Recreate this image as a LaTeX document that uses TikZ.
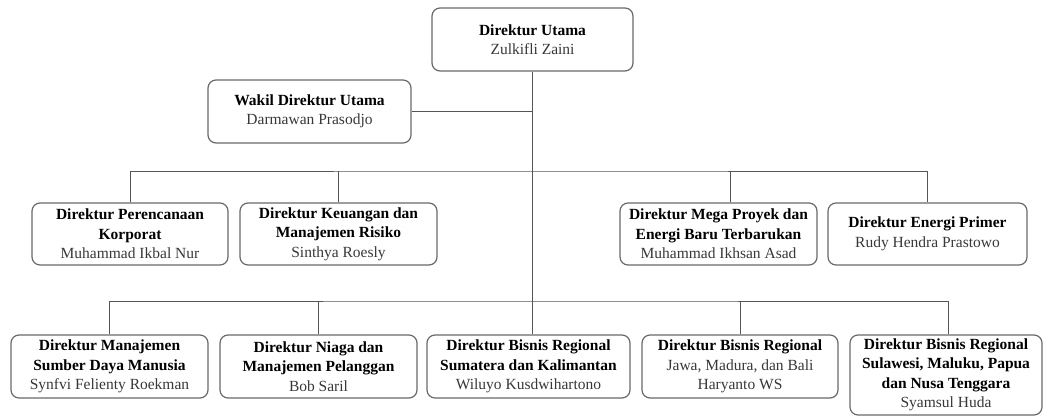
\documentclass[tikz,border=0pt]{standalone}
\usepackage{fontspec}
\setmainfont{Liberation Serif}
\definecolor{boxline}{RGB}{105,105,105}
\definecolor{connline}{RGB}{85,85,85}
\definecolor{nametxt}{RGB}{55,55,55}
\newcommand\pname[1]{{\color{nametxt}#1}}
\begin{document}
\begin{tikzpicture}[x=1pt,y=-1pt,
  orgbox/.style={draw=boxline, line width=1.2pt, rounded corners=8pt, align=center,
    inner sep=0pt, font=\fontsize{15.5}{19.5}\selectfont, text=black},
  conn/.style={draw=connline, line width=1pt}]
\useasboundingbox (0,0) rectangle (1051,417);

% top
\node[orgbox, minimum width=201pt, minimum height=63pt] (du) at (532.5,39.5)
  {\textbf{Direktur Utama}\\\pname{Zulkifli Zaini}};
\node[orgbox, minimum width=203pt, minimum height=63pt] (wk) at (309.5,111.5)
  {\textbf{Wakil Direktur Utama}\\\pname{Darmawan Prasodjo}};

% row 2
\node[orgbox, minimum width=196pt, minimum height=62pt] (r2a) at (130,234)
  {\textbf{Direktur Perencanaan}\\\textbf{Korporat}\\\pname{Muhammad Ikbal Nur}};
\node[orgbox, minimum width=197pt, minimum height=62pt] (r2b) at (338.5,234)
  {\textbf{Direktur Keuangan dan}\\\textbf{Manajemen Risiko}\\\pname{Sinthya Roesly}};
\node[orgbox, minimum width=197pt, minimum height=62pt] (r2c) at (718.5,234)
  {\textbf{Direktur Mega Proyek dan}\\\textbf{Energi Baru Terbarukan}\\\pname{Muhammad Ikhsan Asad}};
\node[orgbox, minimum width=199pt, minimum height=62pt] (r2d) at (927.5,234)
  {\textbf{Direktur Energi Primer}\\\pname{Rudy Hendra Prastowo}};

% row 3
\node[orgbox, minimum width=197pt, minimum height=63pt] (r3a) at (109.5,366.5)
  {\textbf{Direktur Manajemen}\\\textbf{Sumber Daya Manusia}\\\pname{Synfvi Felienty Roekman}};
\node[orgbox, minimum width=197pt, minimum height=63pt] (r3b) at (318.5,366.5)
  {\textbf{Direktur Niaga dan}\\\textbf{Manajemen Pelanggan}\\\pname{Bob Saril}};
\node[orgbox, minimum width=203pt, minimum height=63pt] (r3c) at (528.5,366.5)
  {\textbf{Direktur Bisnis Regional}\\\textbf{Sumatera dan Kalimantan}\\\pname{Wiluyo Kusdwihartono}};
\node[orgbox, minimum width=196pt, minimum height=63pt] (r3d) at (740,366.5)
  {\textbf{Direktur Bisnis Regional}\\\pname{Jawa, Madura, dan Bali}\\\pname{Haryanto WS}};
\node[orgbox, minimum width=192pt, minimum height=80pt] (r3e) at (946,375)
  {\textbf{Direktur Bisnis Regional}\\\textbf{Sulawesi, Maluku, Papua}\\\textbf{dan Nusa Tenggara}\\\pname{Syamsul Huda}};

% connectors
\coordinate (b2) at (532.5,171);
\coordinate (b3) at (532.5,301);
\draw[conn] (du.south) -- (r3c.north -| du.south);
\draw[conn] (wk.east) -- (wk.east -| du.south);
\draw[conn] (r2a.north) |- (b2) -| (r2d.north);
\draw[conn] (r2b.north) -- (r2b.north |- b2);
\draw[conn] ([xshift=11.5pt]r2c.north) -- ([xshift=11.5pt]r2c.north |- b2);
\draw[conn] (r3a.north) |- (b3) -| ([xshift=2pt]r3e.north);
\draw[conn] (r3b.north) -- (r3b.north |- b3);
\draw[conn] (r3d.north) -- (r3d.north |- b3);
\end{tikzpicture}
\end{document}
